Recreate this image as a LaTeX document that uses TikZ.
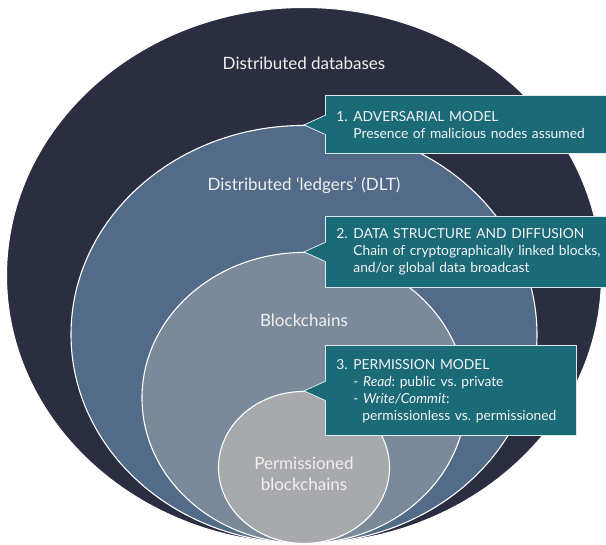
\documentclass[tikz,border=0pt]{standalone}
\usepackage{fontspec}
\setmainfont{Lato}
\usetikzlibrary{shapes.geometric, positioning}
\definecolor{navy}{RGB}{42,46,64}
\definecolor{dltblue}{RGB}{82,107,136}
\definecolor{bcgrey}{RGB}{123,138,154}
\definecolor{pbcgrey}{RGB}{168,169,172}
\definecolor{calloutteal}{RGB}{27,106,120}
\tikzstyle{disc} = [ellipse, draw=white, line width=1.1pt, inner sep=0pt, anchor=south]
\tikzstyle{ringlabel} = [text=white!94!black, font=\fontsize{17}{21}\selectfont, align=center]
\tikzstyle{callout} = [rectangle, draw=white!85!calloutteal, line width=0.8pt, fill=calloutteal, text=white!96!black, font=\fontsize{13.8}{17}\selectfont, align=left, inner xsep=11pt]
\tikzstyle{pointer} = [fill=calloutteal]
\tikzstyle{pointeredge} = [draw=white!85!calloutteal, line width=0.8pt]
\newcommand{\numbox}[1]{\makebox[17pt][l]{#1}}
\frenchspacing

\begin{document}
\begin{tikzpicture}[x=1pt, y=-1pt]
	\useasboundingbox (0,0) rectangle (606,545);
	\clip (0,0) rectangle (606,545);
	\coordinate (base) at (304,544);
	\node (dbs) [disc, fill=navy, minimum width=595pt, minimum height=536pt] at (base) {};
	\node (dlt) [disc, fill=dltblue, minimum width=466pt, minimum height=418pt] at (base) {};
	\node (bc) [disc, fill=bcgrey, minimum width=324pt, minimum height=291pt] at (base) {};
	\node (pbc) [disc, fill=pbcgrey, minimum width=171pt, minimum height=152pt] at (base) {};
	\node (dbslabel) [ringlabel] at ([yshift=-56pt]dbs.north) {Distributed databases};
	\node (dltlabel) [ringlabel] at ([yshift=-61pt]dlt.north) {Distributed ‘ledgers’ (DLT)};
	\node (bclabel) [ringlabel] at ([yshift=-68.5pt]bc.north) {Blockchains};
	\node (pbclabel) [ringlabel] at ([yshift=-82.5pt]pbc.north) {Permissioned\\blockchains};
	\node (adv) [callout, right=21pt of dlt.north, minimum height=58pt, text width=300pt] {\numbox{1.}ADVERSARIAL MODEL\\\hspace*{17pt}Presence of malicious nodes assumed};
	\node (dsd) [callout, right=21pt of bc.north, minimum height=71pt, text width=300pt] {\numbox{2.}DATA STRUCTURE AND DIFFUSION\\\hspace*{17pt}Chain of cryptographically linked blocks,\\\hspace*{17pt}and/or global data broadcast};
	\node (perm) [callout, right=21pt of pbc.north, minimum height=90pt, text width=229pt] {\numbox{3.}PERMISSION MODEL\\\hspace*{17pt}- \textit{Read}: public vs. private\\\hspace*{17pt}- \textit{Write/Commit}:\\\hspace*{26pt}\mbox{permissionless vs. permissioned}};
	\fill [pointer] ([shift={(1pt,9.5pt)}]adv.west) -- (dlt.north) -- ([shift={(1pt,-9.5pt)}]adv.west) -- cycle;
	\draw [pointeredge] ([yshift=9.5pt]adv.west) -- (dlt.north) -- ([yshift=-9.5pt]adv.west);
	\fill [pointer] ([shift={(1pt,9.5pt)}]dsd.west) -- (bc.north) -- ([shift={(1pt,-9.5pt)}]dsd.west) -- cycle;
	\draw [pointeredge] ([yshift=9.5pt]dsd.west) -- (bc.north) -- ([yshift=-9.5pt]dsd.west);
	\fill [pointer] ([shift={(1pt,9.5pt)}]perm.west) -- (pbc.north) -- ([shift={(1pt,-9.5pt)}]perm.west) -- cycle;
	\draw [pointeredge] ([yshift=9.5pt]perm.west) -- (pbc.north) -- ([yshift=-9.5pt]perm.west);
\end{tikzpicture}
\end{document}
